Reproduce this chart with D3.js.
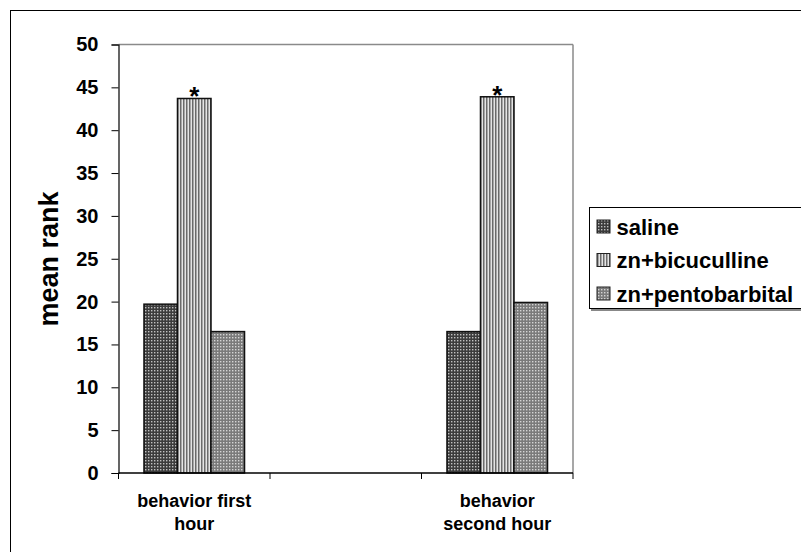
<!DOCTYPE html>
<html><head><meta charset="utf-8">
<script src="https://cdn.jsdelivr.net/npm/d3@7"></script>
<style>body{margin:0;background:#fff;}svg{display:block;font-family:"Liberation Sans",Arial,sans-serif;}</style>
</head><body><svg id="c" width="801" height="552"></svg>
<script>
const categories = ["behavior first hour", "", "behavior second hour"];
const categoryLines = [["behavior first", "hour"], [], ["behavior", "second hour"]];
const seriesNames = ["saline", "zn+bicuculline", "zn+pentobarbital"];
const saline = [19.7, null, 16.5];
const bicuculline = [43.7, null, 43.9];
const pentobarbital = [16.5, null, 19.9];
const starSeries = "zn+bicuculline";
const yTicks = [0,5,10,15,20,25,30,35,40,45,50];

const svg = d3.select("#c");
const L = 118.5, R = 573, T = 44.5, B = 473;
const defs = svg.append("defs");
const p1 = defs.append("pattern").attr("id","pSal").attr("width",3).attr("height",3).attr("patternUnits","userSpaceOnUse");
p1.append("rect").attr("width",3).attr("height",3).attr("fill","#3c3c3c");
p1.append("rect").attr("x",1).attr("y",1).attr("width",1.4).attr("height",1.4).attr("fill","#c0c0c0");
const p2 = defs.append("pattern").attr("id","pBic").attr("width",3).attr("height",3).attr("patternUnits","userSpaceOnUse");
p2.append("rect").attr("width",3).attr("height",3).attr("fill","#e4e4e4");
p2.append("rect").attr("x",0).attr("y",0).attr("width",1.5).attr("height",3).attr("fill","#6a6a6a");
const p3 = defs.append("pattern").attr("id","pPen").attr("width",3).attr("height",3).attr("patternUnits","userSpaceOnUse");
p3.append("rect").attr("width",3).attr("height",3).attr("fill","#7a7a7a");
p3.append("rect").attr("x",1).attr("y",1).attr("width",1.4).attr("height",1.4).attr("fill","#d4d4d4");
const fills = {"saline":"url(#pSal)","zn+bicuculline":"url(#pBic)","zn+pentobarbital":"url(#pPen)"};

svg.append("rect").attr("x",10.5).attr("y",10.5).attr("width",900).attr("height",700).attr("fill","none").attr("stroke","#000").attr("stroke-width",1);

const x = d3.scaleBand().domain(categories.map((c,i)=>i)).range([L,R]).paddingInner(0).paddingOuter(0);
const inner = d3.scaleBand().domain(seriesNames).range([0,x.bandwidth()]).paddingOuter(0.76).paddingInner(0);
const y = d3.scaleLinear().domain([0,50]).range([B,T]);

svg.append("line").attr("x1",L).attr("x2",R).attr("y1",y(50)).attr("y2",y(50)).attr("stroke","#8a8a8a").attr("stroke-width",1.5);
svg.append("line").attr("x1",R).attr("x2",R).attr("y1",y(50)).attr("y2",B).attr("stroke","#8a8a8a").attr("stroke-width",1.5);

const data = [saline, bicuculline, pentobarbital];
const rows = [];
categories.forEach((c,i)=>{
  seriesNames.forEach((s,j)=>{ if(data[j][i]!=null) rows.push({i, s, v:data[j][i]}); });
});
svg.append("g").selectAll("rect").data(rows).join("rect")
  .attr("x",d=>x(d.i)+inner(d.s))
  .attr("y",d=>y(d.v))
  .attr("width",inner.bandwidth())
  .attr("height",d=>B-y(d.v))
  .attr("fill",d=>fills[d.s])
  .attr("stroke","#111").attr("stroke-width",1.5);

svg.append("g").selectAll("text").data(rows.filter(d=>d.s===starSeries)).join("text")
  .attr("x",d=>x(d.i)+inner(d.s)+inner.bandwidth()/2)
  .attr("y",d=>y(d.v)+7)
  .attr("text-anchor","middle").attr("font-size",26).attr("font-weight","bold").text("*");

const ya = svg.append("g").attr("transform",`translate(${L},0)`).call(d3.axisLeft(y).tickValues(yTicks).tickSize(7).tickPadding(13));
ya.select(".domain").attr("stroke","#000").attr("stroke-width",1.2);
ya.selectAll(".tick line").attr("stroke","#000");
ya.selectAll(".tick text").attr("font-size",20).attr("font-weight","bold").attr("fill","#000").attr("font-family","Liberation Sans, Arial, sans-serif");

const xa = svg.append("g").attr("transform",`translate(0,${B})`);
xa.append("line").attr("x1",L).attr("x2",R).attr("stroke","#000").attr("stroke-width",1.5);
const bounds = d3.range(categories.length+1).map(k=> k<categories.length ? x(k) : x(categories.length-1)+x.bandwidth());
xa.selectAll("line.t").data(bounds).join("line").attr("class","t").attr("x1",d=>d).attr("x2",d=>d).attr("y1",0).attr("y2",6).attr("stroke","#000");
categories.forEach((c,i)=>{
  const t = xa.append("text").attr("x",x(i)+x.bandwidth()/2).attr("y",34).attr("text-anchor","middle").attr("font-size",18).attr("font-weight","bold");
  categoryLines[i].forEach((ln,k)=> t.append("tspan").attr("x",x(i)+x.bandwidth()/2).attr("dy",k?23:0).text(ln));
});

svg.append("text").attr("transform",`translate(58,259) rotate(-90)`).attr("text-anchor","middle").attr("font-size",27).attr("font-weight","bold").text("mean rank");

const lg = svg.append("g");
lg.append("rect").attr("x",591).attr("y",210).attr("width",260).attr("height",101).attr("fill","#888");
lg.append("rect").attr("x",589.5).attr("y",207.5).attr("width",260).attr("height",101).attr("fill","#fff").attr("stroke","#000");
seriesNames.forEach((s,k)=>{
  const yy = 226.5 + k*33.5;
  lg.append("rect").attr("x",597).attr("y",yy-6.5).attr("width",13).attr("height",13).attr("fill",fills[s]).attr("stroke","#222");
  lg.append("text").attr("x",616.5).attr("y",yy+8).attr("font-size",22).attr("font-weight","bold").text(s);
});
</script></body></html>
